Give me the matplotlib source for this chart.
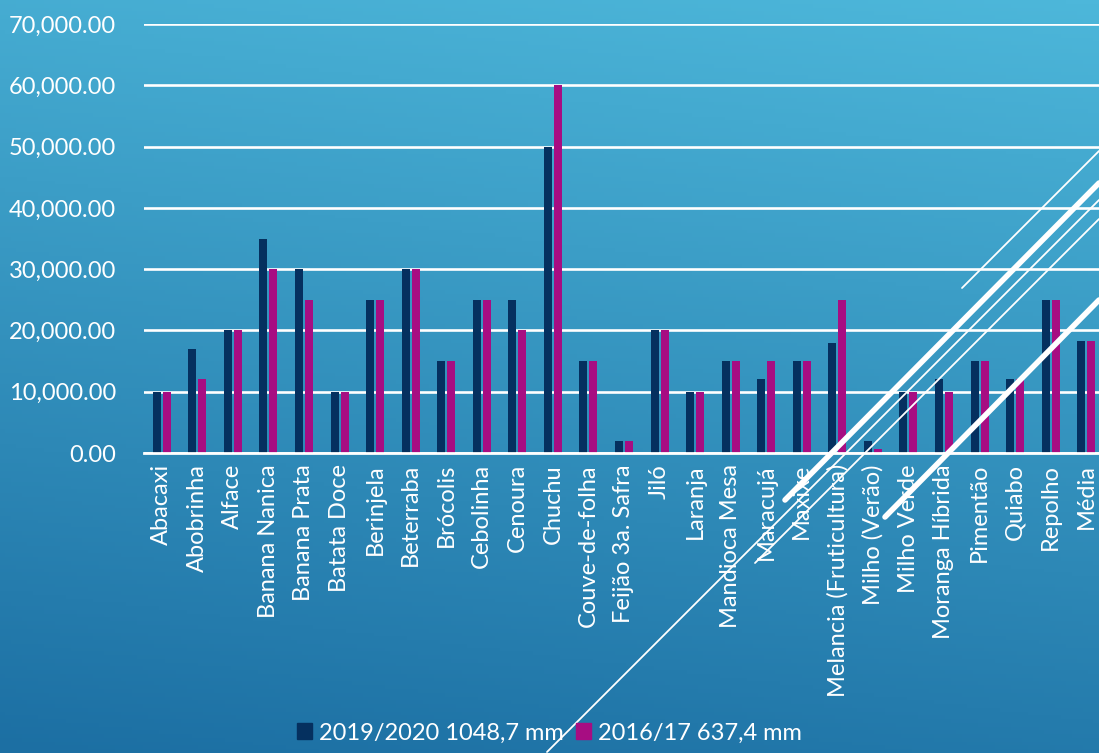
#!/usr/bin/env python3
"""Grouped bar chart: yields per crop, 2019/2020 vs 2016/17 rainfall seasons."""

import matplotlib

matplotlib.use("Agg")
import matplotlib.pyplot as plt  # noqa: E402
import numpy as np  # noqa: E402
from matplotlib.colors import LinearSegmentedColormap  # noqa: E402
from matplotlib.lines import Line2D  # noqa: E402
from matplotlib.patches import Patch  # noqa: E402
from matplotlib.ticker import FuncFormatter  # noqa: E402

CROPS = [
    "Abacaxi", "Abobrinha", "Alface", "Banana Nanica", "Banana Prata",
    "Batata Doce", "Berinjela", "Beterraba", "Brócolis", "Cebolinha",
    "Cenoura", "Chuchu", "Couve-de-folha", "Feijão 3a. Safra", "Jiló",
    "Laranja", "Mandioca Mesa", "Maracujá", "Maxixe",
    "Melancia (Fruticultura)", "Milho (Verão)", "Milho Verde",
    "Moranga Híbrida", "Pimentão", "Quiabo", "Repolho", "Média",
]
SEASON_2019 = [
    10000, 17000, 20000, 35000, 30000, 10000, 25000, 30000, 15000, 25000,
    25000, 50000, 15000, 2000, 20000, 10000, 15000, 12000, 15000, 18000,
    2000, 10000, 12000, 15000, 12000, 25000, 18300,
]
SEASON_2016 = [
    10000, 12000, 20000, 30000, 25000, 10000, 25000, 30000, 15000, 25000,
    20000, 60000, 15000, 2000, 20000, 10000, 15000, 15000, 15000, 25000,
    600, 10000, 10000, 15000, 12000, 25000, 18300,
]
LABEL_2019 = "2019/2020 1048,7 mm"
LABEL_2016 = "2016/17 637,4 mm"

DARK = "#05305F"
MAGENTA = "#A70D82"
TOP = "#4DB7DA"
BOTTOM = "#1C6FA3"
W, H = 1099, 753
FS = 17

plt.rcParams["font.family"] = ["Lato", "DejaVu Sans"]

fig = plt.figure(figsize=(W / 100, H / 100), dpi=100)

# background gradient
bg = fig.add_axes([0, 0, 1, 1], zorder=-10)
yy, xx = np.mgrid[0:1:200j, 0:1:200j]
grad = 0.85 * yy + 0.15 * (1 - xx)
cmap = LinearSegmentedColormap.from_list("bg", [TOP, BOTTOM])
bg.imshow(grad, cmap=cmap, aspect="auto", extent=[0, 1, 0, 1], origin="upper")
bg.axis("off")

ax = fig.add_axes([144 / W, 1 - 453 / H, 960 / W, 429 / H])
ax.patch.set_alpha(0)
x = np.arange(len(CROPS))
width = 0.225
ax.bar(x - 0.14, SEASON_2019, width, color=DARK, zorder=3)
ax.bar(x + 0.14, SEASON_2016, width, color=MAGENTA, zorder=3)

ax.set_xlim(-0.5, len(CROPS) - 0.5)
ax.set_ylim(0, 70000)
ax.set_yticks(np.arange(0, 70001, 10000))
ax.yaxis.set_major_formatter(FuncFormatter(lambda v, _: f"{v:,.2f}"))
ax.grid(axis="y", color="white", linewidth=1.9, zorder=1)
ax.set_axisbelow(True)
for side in ax.spines.values():
    side.set_visible(False)
ax.tick_params(axis="both", length=0, colors="white", labelsize=FS)
ax.tick_params(axis="y", pad=20)
ax.tick_params(axis="x", pad=8)
ax.set_xticks(x)
ax.set_xticklabels(CROPS, rotation=90, ha="center", va="top")
ax.axhline(0, color="white", linewidth=2.0, zorder=4, clip_on=False)

# decorative diagonal strokes
strokes = [
    ((962, 288), (1099, 151), 1.3),
    ((785, 500), (1099, 183), 4.0),
    ((547, 752), (1099, 200), 1.3),
    ((755, 563), (1099, 219), 1.3),
    ((885, 517), (1099, 300), 4.0),
]
for (x0, y0), (x1, y1), lw in strokes:
    fig.add_artist(Line2D([x0 / W, x1 / W], [1 - y0 / H, 1 - y1 / H],
                          color="white", linewidth=lw,
                          solid_capstyle="round", zorder=5))

handles = [Patch(color=DARK, label=LABEL_2019), Patch(color=MAGENTA, label=LABEL_2016)]
fig.legend(
    handles=handles, loc="lower center", bbox_to_anchor=(0.5, -0.006),
    ncols=2, frameon=False, fontsize=FS, labelcolor="white",
    handlelength=0.65, handleheight=0.65, handletextpad=0.3,
    columnspacing=0.5, borderpad=0.1,
)

fig.savefig("out.png", dpi=100)
